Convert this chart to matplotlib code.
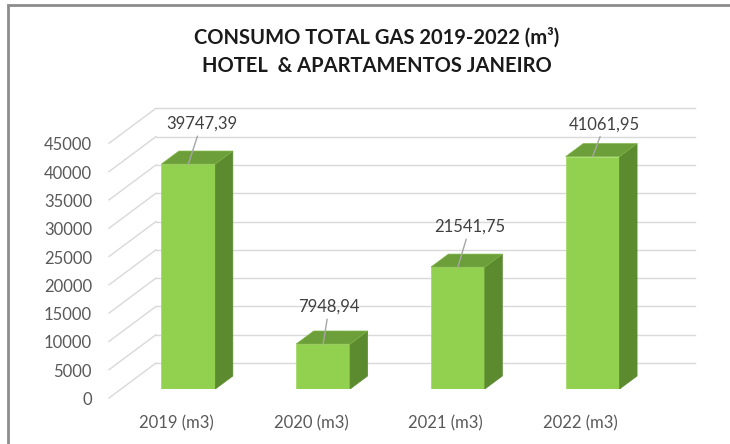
import matplotlib.pyplot as plt
import matplotlib.patches as patches
import numpy as np

# dados
categorias = ["2019 (m3)", "2020 (m3)", "2021 (m3)", "2022 (m3)"]
consumo = [39747.39, 7948.94, 21541.75, 41061.95]
rotulos = ["39747,39", "7948,94", "21541,75", "41061,95"]
ticks_y = [0, 5000, 10000, 15000, 20000, 25000, 30000, 35000, 40000, 45000]

plt.rcParams['font.family'] = ['Lato', 'DejaVu Sans']

fig = plt.figure(figsize=(7.3, 4.44), dpi=100)
ax = fig.add_axes([121 / 730, 55 / 444, 539 / 730, 254.7 / 444])
ax.set_xlim(-0.5, 3.5)
ax.set_ylim(0, 45000)
ax.axis('off')


def px2data(dx, dy):
    # deslocamento em pixels -> deslocamento em unidades de dados
    x0, y0 = ax.transData.transform((0, 0))
    return ax.transData.inverted().transform((x0 + dx, y0 + dy))


fx, fy = px2data(-12, -9)     # plano da frente
bx, by = px2data(35, 26)      # parede do fundo
dx, dy = px2data(17.5, 13)    # profundidade da barra
lx, ly = px2data(-29, -11)    # rotulos do eixo y

x0, x1 = ax.get_xlim()
grid_cor = '#d9d9d9'
for t in ticks_y:
    ax.plot([x0 + bx, x1 + bx], [t + by, t + by], color=grid_cor, lw=1, clip_on=False, zorder=1)
    ax.plot([x0 + fx, x0 + bx], [t + fy, t + by], color=grid_cor, lw=1, clip_on=False, zorder=1)
    ax.text(x0 + lx, t + ly, str(t), ha='right', va='center', fontsize=12, color='#595959')

# barras 3D
w = 0.4
x = np.arange(len(categorias))
ax.bar(x, consumo, width=w, color='#92d050', edgecolor='#a6d96a', lw=0.6, zorder=3)
for xi, v in zip(x, consumo):
    r = xi + w / 2
    l = xi - w / 2
    lado = [(r, 0), (r + dx, dy), (r + dx, v + dy), (r, v)]
    topo = [(l, v), (r, v), (r + dx, v + dy), (l + dx, v + dy)]
    ax.add_patch(patches.Polygon(lado, closed=True, fc='#5b8a2f', ec='#5b8a2f', lw=0.5, zorder=3))
    ax.add_patch(patches.Polygon(topo, closed=True, fc='#6c9f3a', ec='#7fb545', lw=0.5, zorder=3))

# rotulos de dados
offsets = [(13, 40), (6, 37), (12, 40), (12, 32)]
for xi, v, txt, off in zip(x, consumo, rotulos, offsets):
    ax.annotate(txt, xy=(xi, v), xytext=off, textcoords='offset pixels',
                ha='center', va='center', fontsize=12, color='#404040',
                arrowprops=dict(arrowstyle='-', color='#a6a6a6', lw=1, shrinkA=1, shrinkB=0),
                zorder=5)

# categorias
cx, cy = px2data(-12, -34)
for xi, c in zip(x, categorias):
    ax.text(xi + cx, cy, c, ha='center', va='center', fontsize=12, color='#595959')

fig.text(377 / 730, 1 - 38 / 444, "CONSUMO TOTAL GAS 2019-2022 (m³)", ha='center', va='center',
         fontsize=14.5, fontweight='bold', color='#1a1a1a')
fig.text(377 / 730, 1 - 66 / 444, "HOTEL  & APARTAMENTOS JANEIRO", ha='center', va='center',
         fontsize=14.5, fontweight='bold', color='#1a1a1a')

# moldura
fig.add_artist(patches.Rectangle((8 / 730, -0.1), 1.2, 1.1 - 5 / 444, transform=fig.transFigure,
                                 fill=False, ec='#8c8c8c', lw=2))

plt.savefig("out.png", dpi=100)
